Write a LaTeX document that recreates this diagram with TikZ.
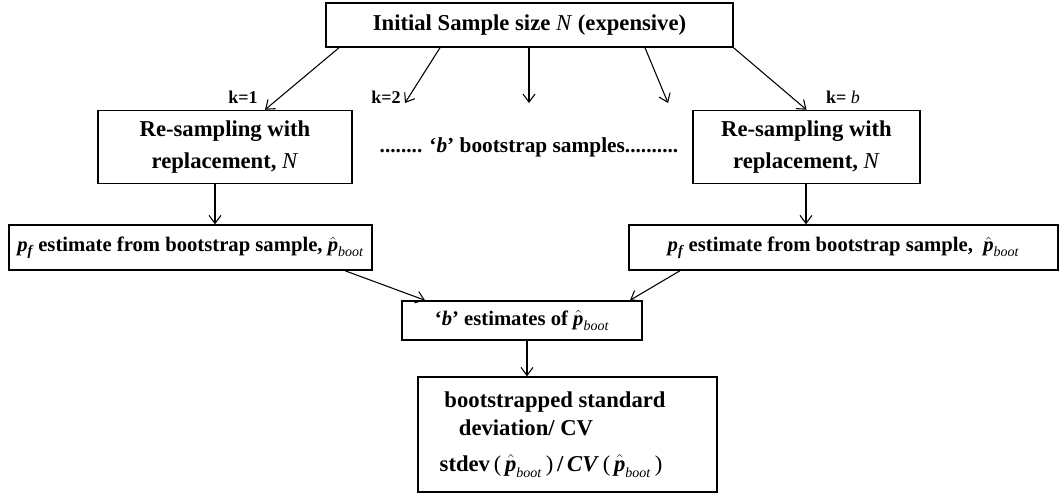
\documentclass[tikz,border=0pt]{standalone}
\usepackage{amsmath}
\usepackage{fontspec}
\setmainfont{Liberation Serif}
\usetikzlibrary{arrows.meta}
\newcommand{\phat}{$\hat{\text{\bfseries\itshape p}}_{\text{\fontsize{10.5}{11}\selectfont\itshape\mdseries boot}}$}
\newcommand{\pf}{\textit{p}$_{\text{\itshape f}}$}
\begin{document}
\begin{tikzpicture}[x=0.75pt,y=-0.75pt,
  font=\bfseries\fontsize{17}{24}\selectfont,
  box/.style={draw, line width=1.1pt, inner sep=0pt, align=center},
  arr/.style={-{Straight Barb[length=6pt,width=9pt]}, line width=0.8pt},
  klab/.style={font=\bfseries\fontsize{13.5}{16}\selectfont},
  mid/.style={font=\bfseries\fontsize{15.5}{18}\selectfont}]
\useasboundingbox (0,0) rectangle (1064,496);
\node[box, minimum width=305pt, minimum height=33pt] (top) at (529.5,25)
  {Initial Sample size \textit{\mdseries N} (expensive)};
\node[box, minimum width=190.5pt, minimum height=54.75pt] (rsl) at (225,147)
  {Re-sampling with\\replacement, \textit{\mdseries N}};
\node[box, minimum width=170.25pt, minimum height=54.75pt] (rsr) at (806.5,147)
  {Re-sampling with\\replacement, \textit{\mdseries N}};
\node[font=\bfseries\fontsize{16}{18}\selectfont] (dots) at (529,147)
  {........ ‘\textit{b}’ bootstrap samples..........};
\node[box, mid, minimum width=272.25pt, minimum height=33.75pt] (pfl) at (190.5,247.5)
  {\pf\ estimate from bootstrap sample,\ \phat};
\node[box, mid, minimum width=321.75pt, minimum height=33.75pt] (pfr) at (843.5,247.5)
  {\pf\ estimate from bootstrap sample,\ \ \phat};
\node[box, mid, minimum width=180pt, minimum height=29.25pt] (best) at (522,320.5)
  {‘\textit{b}’ estimates of \phat};
\node[box, minimum width=224.25pt, minimum height=86.25pt] (bot) at (567.5,434.5) {};
\node (l1) at (555,402) {bootstrapped standard};
\node (l2) at (526,428) {deviation/ CV};
\node (l3) at (551,466) {stdev\,{\mdseries(}\,\phat\,{\mdseries)}\,/\,\textit{CV}\,{\mdseries(}\,\phat\,{\mdseries)}};
\node[klab] (k1) at (243,97) {k=1};
\node[klab] (k2) at (386,97) {k=2};
\node[klab] (kb) at (843,97) {k= \textit{\mdseries b}};
\coordinate (e2) at (405,103);
\coordinate (e3) at (529,103);
\coordinate (e4) at (668,103);
\draw[arr] (top.south -| 339,0) -- (rsl.north -| 265,0);
\draw[arr] (top.south -| 440,0) -- (e2);
\draw[arr] (top.south -| 529,0) -- (e3);
\draw[arr] (top.south -| 645,0) -- (e4);
\draw[arr] (top.south east) -- (rsr.north);
\draw[arr] (rsl.south -| 215,0) -- (pfl.north -| 215,0);
\draw[arr] (rsr.south -| 806,0) -- (pfr.north -| 806,0);
\draw[arr] (pfl.south -| 345,0) -- (best.north -| 425,0);
\draw[arr] (pfr.south -| 680,0) -- (best.north -| 630,0);
\draw[arr] (best.south -| 527,0) -- (bot.north -| 527,0);
\end{tikzpicture}
\end{document}
